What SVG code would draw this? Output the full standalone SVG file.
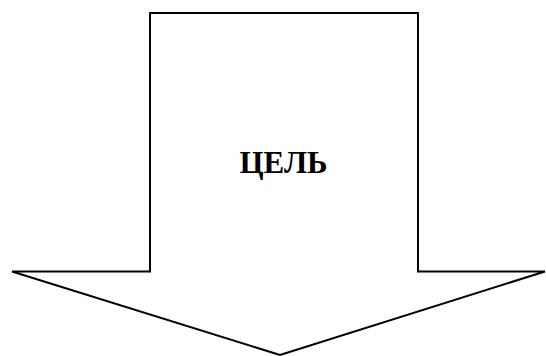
<svg xmlns="http://www.w3.org/2000/svg" width="546" height="356" viewBox="0 0 546 356">
<style>
.arrow{fill:#fff;stroke:#000;stroke-width:2;stroke-linejoin:miter}
.lbl{font-family:"Liberation Serif","Times New Roman",serif;font-weight:bold;font-size:31px;fill:#000;text-anchor:middle}
</style>
<rect width="546" height="356" fill="#fff"/>
<g id="arrow">
<polygon class="arrow" points="150,13 418,13 418,271.5 545,271.5 280,355 12,271.5 150,271.5"/>
<text class="lbl" x="283.5" y="173">ЦЕЛЬ</text>
</g>
</svg>
